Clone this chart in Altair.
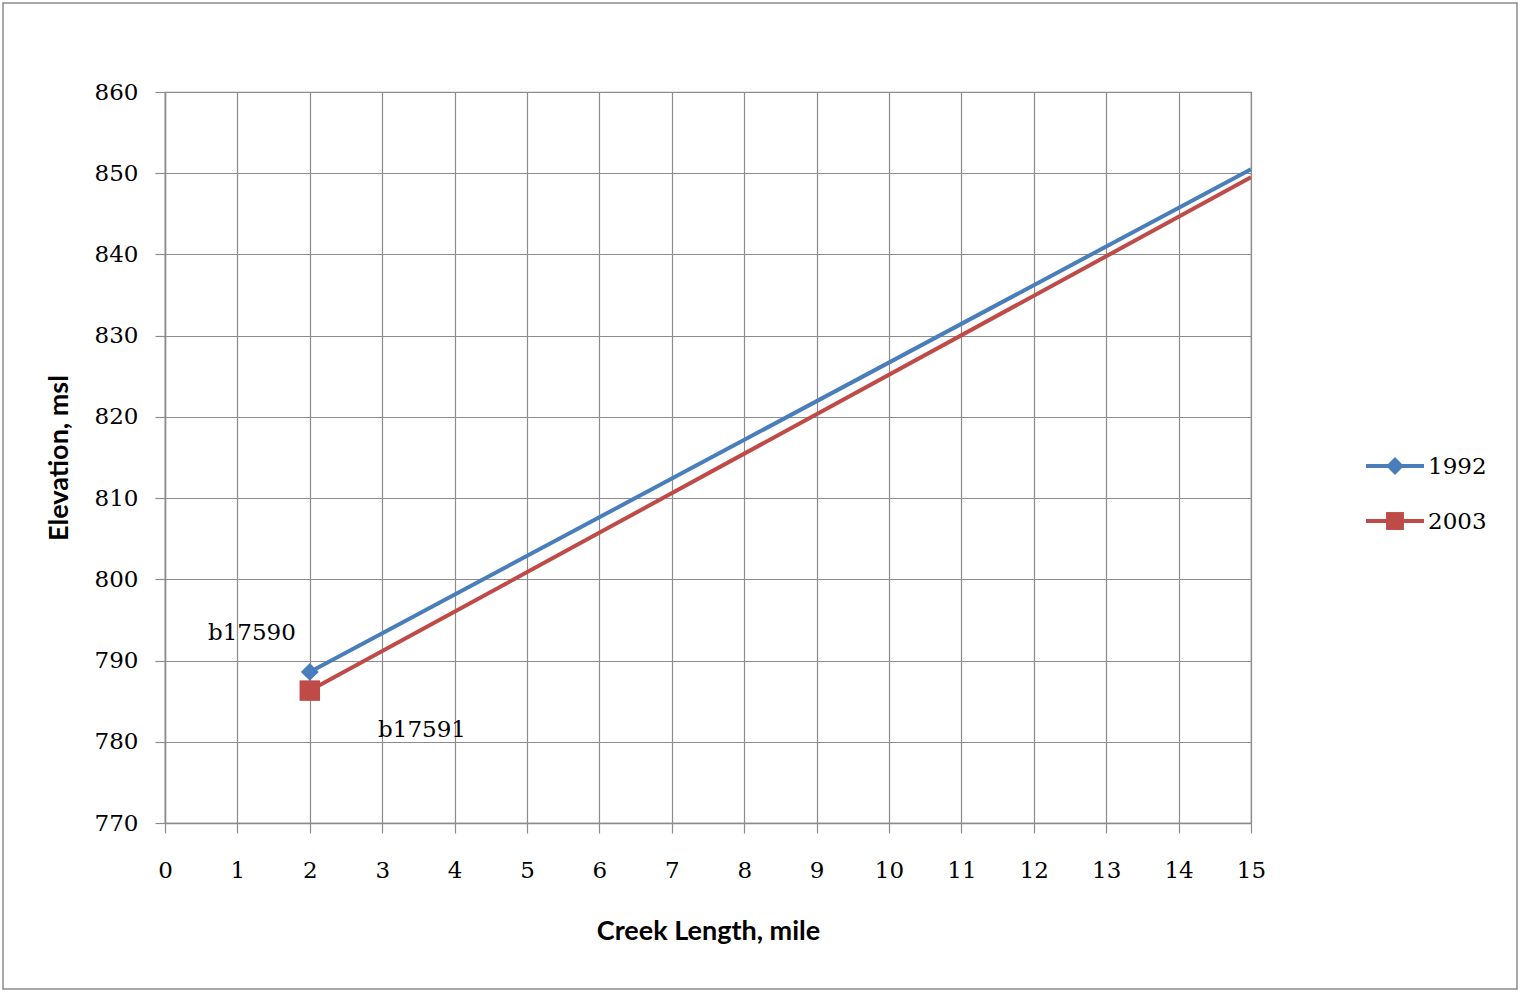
import altair as alt
import pandas as pd

# Creek profile: elevation along the creek for two survey years
years = ["1992", "2003"]
creek_mile = [2, 15]
elev_1992 = [788.6, 850.5]
elev_2003 = [786.3, 849.5]

# Station labels at the start of the profile
station_names = ["b17590", "b17591"]
station_x = [1.2, 3.55]
station_y = [793.4, 781.4]

colors = ["#4a7ebb", "#be4b48"]
shapes = ["diamond", "square"]
marker_sizes = [320, 420]

W, H = 1086, 731
SERIF = "DejaVu Serif"
SANS = "Lato"
INK = "#000000"

rows = []
for yr, vals in zip(years, [elev_1992, elev_2003]):
    for i, (x, y) in enumerate(zip(creek_mile, vals)):
        rows.append({"year": yr, "mile": x, "elev": y, "first": i == 0})
df = pd.DataFrame(rows)

x_scale = alt.Scale(domain=[0, 15], nice=False)
y_scale = alt.Scale(domain=[770, 860], nice=False, zero=False)
color_scale = alt.Scale(domain=years, range=colors)
shape_scale = alt.Scale(domain=years, range=shapes)

x_axis = alt.Axis(
    values=list(range(0, 16)), format="d", title="Creek Length, mile", grid=True,
    gridColor="#8c8c8c", gridWidth=1.2, domainColor="#8c8c8c", domainWidth=1.5,
    tickColor="#8c8c8c", tickSize=10, tickWidth=1.2,
    labelFont=SERIF, labelFontSize=23, labelColor=INK, labelPadding=26,
    labelAlign="center", labelFlush=False, labelOverlap=False,
    titleFont=SANS, titleFontSize=27, titleFontWeight="bold", titleColor=INK,
    titlePadding=36,
)
y_axis = alt.Axis(
    values=list(range(770, 861, 10)), format="d", title="Elevation, msl", grid=True,
    gridColor="#8c8c8c", gridWidth=1.2, domainColor="#8c8c8c", domainWidth=1.5,
    tickColor="#8c8c8c", tickSize=10, tickWidth=1.2,
    labelFont=SERIF, labelFontSize=23, labelColor=INK, labelPadding=17,
    labelFlush=False, labelOverlap=False,
    titleFont=SANS, titleFontSize=27, titleFontWeight="bold", titleColor=INK,
    titlePadding=21,
)

base = alt.Chart(df)

lines = base.mark_line(strokeWidth=4, clip=True).encode(
    x=alt.X("mile:Q", scale=x_scale, axis=x_axis),
    y=alt.Y("elev:Q", scale=y_scale, axis=y_axis),
    color=alt.Color("year:N", scale=color_scale, legend=None),
    detail="year:N",
)

markers = base.transform_filter("datum.first").mark_point(
    filled=True, opacity=1, strokeWidth=0
).encode(
    x=alt.X("mile:Q", scale=x_scale),
    y=alt.Y("elev:Q", scale=y_scale),
    color=alt.Color("year:N", scale=color_scale, legend=None),
    shape=alt.Shape("year:N", scale=shape_scale, legend=None),
    size=alt.Size("year:N", scale=alt.Scale(domain=years, range=marker_sizes), legend=None),
)

stations = alt.Chart(pd.DataFrame({
    "name": station_names, "mile": station_x, "elev": station_y
})).mark_text(font=SERIF, fontSize=23, color=INK, align="center", baseline="middle").encode(
    x=alt.X("mile:Q", scale=x_scale),
    y=alt.Y("elev:Q", scale=y_scale),
    text="name:N",
)

# Legend drawn beside the plot: line sample with marker, then the year
legend_layers = []
for i, yr in enumerate(years):
    row = alt.Chart(pd.DataFrame({"year": [yr]}))
    ly = 374 + 55 * i
    legend_layers.append(row.mark_rule(strokeWidth=4, color=colors[i]).encode(
        x=alt.value(W + 115), x2=alt.value(W + 173), y=alt.value(ly)))
    legend_layers.append(row.mark_point(
        filled=True, opacity=1, strokeWidth=0, shape=shapes[i], color=colors[i],
        size=[320, 320][i]).encode(x=alt.value(W + 144), y=alt.value(ly)))
    legend_layers.append(row.mark_text(
        font=SERIF, fontSize=23, color=INK, align="left", baseline="middle", dy=1
    ).encode(x=alt.value(W + 177), y=alt.value(ly), text="year:N"))

# Outer frame around the whole figure
frame = alt.Chart(pd.DataFrame({"k": [0]})).mark_rect(
    fill=None, stroke="#8c8c8c", strokeWidth=1.5, clip=False
).encode(
    x=alt.value(-162), x2=alt.value(1352), y=alt.value(-89), y2=alt.value(897)
)

chart = alt.layer(frame, lines, markers, stations, *legend_layers).properties(
    width=W, height=H,
    autosize=alt.AutoSizeParams(type="none"),
    padding={"left": 165, "top": 92, "right": 1520 - 165 - W, "bottom": 992 - 92 - H},
    background="white",
).configure_view(stroke="#8c8c8c", strokeWidth=1.2)

chart.save("out.html", embed_options={"renderer": "svg", "actions": False})
